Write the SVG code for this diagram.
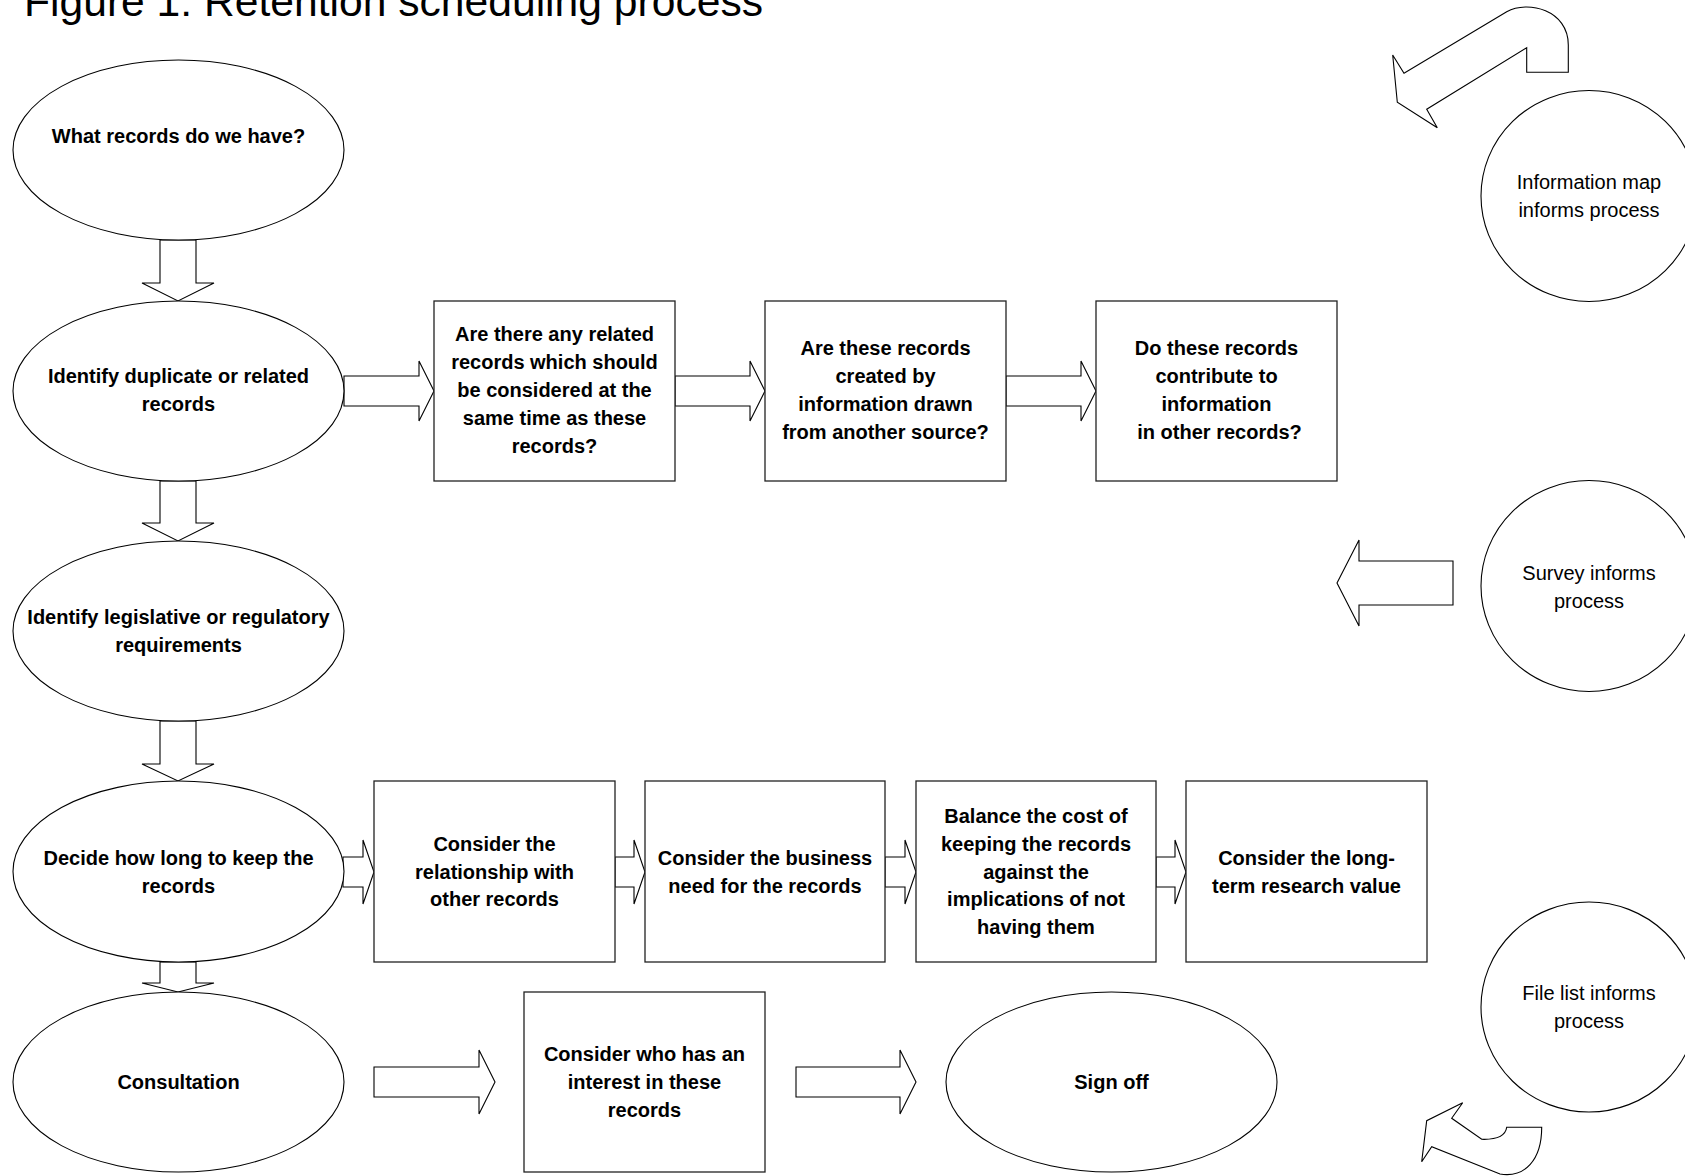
<svg xmlns="http://www.w3.org/2000/svg" width="1685" height="1176" viewBox="0 0 1685 1176">
<style>
.shape{fill:#fff;stroke:#000;stroke-width:1.1}
.box{fill:#fff;stroke:#222;stroke-width:1.3}
.arr{fill:#fff;stroke:#000;stroke-width:1.1;stroke-linejoin:miter}
.b{font-family:"Liberation Sans",Arial,sans-serif;font-weight:bold;font-size:20px;fill:#000;text-anchor:middle}
.r{font-family:"Liberation Sans",Arial,sans-serif;font-size:20px;fill:#000;text-anchor:middle}
.title{font-family:"Liberation Sans",Arial,sans-serif;font-size:42.6px;fill:#000}
</style>
<rect width="1685" height="1176" fill="#fff"/>
<text class="title" x="24" y="16" textLength="739" lengthAdjust="spacingAndGlyphs">Figure 1: Retention scheduling process</text>

<g id="connectors">
  <polygon class="arr" points="160,240 196,240 196,283 214,283 178,301 142,283 160,283"/>
  <polygon class="arr" points="160,481 196,481 196,523 214,523 178,541 142,523 160,523"/>
  <polygon class="arr" points="160,721 196,721 196,764 214,764 178,781 142,764 160,764"/>
  <polygon class="arr" points="160,962 196,962 196,983 214,983 178,992 142,983 160,983"/>
  <polygon class="arr" points="344,376 419,376 419,361 434,391 419,421 419,406 344,406"/>
  <polygon class="arr" points="675,376 750,376 750,361 765,391 750,421 750,406 675,406"/>
  <polygon class="arr" points="1006,376 1081,376 1081,361 1096,391 1081,421 1081,406 1006,406"/>
  <polygon class="arr" points="343,857 363,857 363,840 374,872 363,904 363,887 343,887"/>
  <polygon class="arr" points="615,857 634,857 634,840 645,872 634,904 634,887 615,887"/>
  <polygon class="arr" points="885,857 905,857 905,840 916,872 905,904 905,887 885,887"/>
  <polygon class="arr" points="1156,857 1175,857 1175,840 1186,872 1175,904 1175,887 1156,887"/>
  <polygon class="arr" points="374,1067 479,1067 479,1050 495,1082 479,1114 479,1097 374,1097"/>
  <polygon class="arr" points="796,1067 900,1067 900,1050 916,1082 900,1114 900,1097 796,1097"/>
  <polygon class="arr" points="1453,561 1359,561 1359,540 1337,583 1359,626 1359,605 1453,605"/>
  <path class="arr" d="M1392.7,55 L1404,73.3 L1506.7,11.7 C1528,0 1568.3,10 1568.3,45 L1568.3,72.3 L1526.7,72.3 L1526.7,47.7 L1426.7,109.3 L1437.3,127.7 L1397.3,102.3 Z"/>
  <path class="arr" d="M1462.7,1102.7 L1451.7,1118.3 L1481.7,1139.3 Q1505,1140 1506.7,1127.3 L1541.7,1127.3 C1541.7,1160 1525,1178 1500,1174 L1431.7,1146.7 L1421.7,1161.7 L1426.7,1120.7 Z"/>
</g>

<g id="n-what">
  <ellipse class="shape" cx="178.5" cy="150" rx="165.5" ry="90"/>
  <text class="b" x="178.5" y="143">What records do we have?</text>
</g>
<g id="n-identify-dup">
  <ellipse class="shape" cx="178.5" cy="391" rx="165.5" ry="90"/>
  <text class="b" x="178.5" y="383">Identify duplicate or related</text>
  <text class="b" x="178.5" y="411">records</text>
</g>
<g id="n-related">
  <rect class="box" x="434" y="301" width="241" height="180"/>
  <text class="b" x="554.5" y="341">Are there any related</text>
  <text class="b" x="554.5" y="369">records which should</text>
  <text class="b" x="554.5" y="397">be considered at the</text>
  <text class="b" x="554.5" y="425">same time as these</text>
  <text class="b" x="554.5" y="453">records?</text>
</g>
<g id="n-created">
  <rect class="box" x="765" y="301" width="241" height="180"/>
  <text class="b" x="885.5" y="355">Are these records</text>
  <text class="b" x="885.5" y="383">created by</text>
  <text class="b" x="885.5" y="411">information drawn</text>
  <text class="b" x="885.5" y="439">from another source?</text>
</g>
<g id="n-contribute">
  <rect class="box" x="1096" y="301" width="241" height="180"/>
  <text class="b" x="1216.5" y="355">Do these records</text>
  <text class="b" x="1216.5" y="383">contribute to</text>
  <text class="b" x="1216.5" y="411">information</text>
  <text class="b" x="1219.5" y="439">in other records?</text>
</g>
<g id="n-infomap">
  <ellipse class="shape" cx="1589" cy="196" rx="108" ry="105.5"/>
  <text class="r" x="1589" y="189">Information map</text>
  <text class="r" x="1589" y="216.5">informs process</text>
</g>
<g id="n-survey">
  <ellipse class="shape" cx="1589" cy="586" rx="108" ry="105.5"/>
  <text class="r" x="1589" y="580">Survey informs</text>
  <text class="r" x="1589" y="608">process</text>
</g>
<g id="n-legislative">
  <ellipse class="shape" cx="178.5" cy="631" rx="165.5" ry="90"/>
  <text class="b" x="178.5" y="624">Identify legislative or regulatory</text>
  <text class="b" x="178.5" y="652">requirements</text>
</g>
<g id="n-decide">
  <ellipse class="shape" cx="178.5" cy="871.5" rx="165.5" ry="90.5"/>
  <text class="b" x="178.5" y="864.5">Decide how long to keep the</text>
  <text class="b" x="178.5" y="892.5">records</text>
</g>
<g id="n-relationship">
  <rect class="box" x="374" y="781" width="241" height="181"/>
  <text class="b" x="494.5" y="850.6">Consider the</text>
  <text class="b" x="494.5" y="878.5">relationship with</text>
  <text class="b" x="494.5" y="906.4">other records</text>
</g>
<g id="n-business">
  <rect class="box" x="645" y="781" width="240" height="181"/>
  <text class="b" x="765" y="864.5">Consider the business</text>
  <text class="b" x="765" y="892.5">need for the records</text>
</g>
<g id="n-balance">
  <rect class="box" x="916" y="781" width="240" height="181"/>
  <text class="b" x="1036" y="822.6">Balance the cost of</text>
  <text class="b" x="1036" y="850.6">keeping the records</text>
  <text class="b" x="1036" y="878.5">against the</text>
  <text class="b" x="1036" y="906.4">implications of not</text>
  <text class="b" x="1036" y="934.4">having them</text>
</g>
<g id="n-research">
  <rect class="box" x="1186" y="781" width="241" height="181"/>
  <text class="b" x="1306.5" y="864.5">Consider the long-</text>
  <text class="b" x="1306.5" y="892.5">term research value</text>
</g>
<g id="n-filelist">
  <ellipse class="shape" cx="1589" cy="1007" rx="108" ry="105"/>
  <text class="r" x="1589" y="1000">File list informs</text>
  <text class="r" x="1589" y="1028">process</text>
</g>
<g id="n-consultation">
  <ellipse class="shape" cx="178.5" cy="1082" rx="165.5" ry="90"/>
  <text class="b" x="178.5" y="1089">Consultation</text>
</g>
<g id="n-interest">
  <rect class="box" x="524" y="992" width="241" height="180"/>
  <text class="b" x="644.5" y="1061">Consider who has an</text>
  <text class="b" x="644.5" y="1089">interest in these</text>
  <text class="b" x="644.5" y="1117">records</text>
</g>
<g id="n-signoff">
  <ellipse class="shape" cx="1111.5" cy="1082" rx="165.5" ry="90"/>
  <text class="b" x="1111.5" y="1089">Sign off</text>
</g>
</svg>
